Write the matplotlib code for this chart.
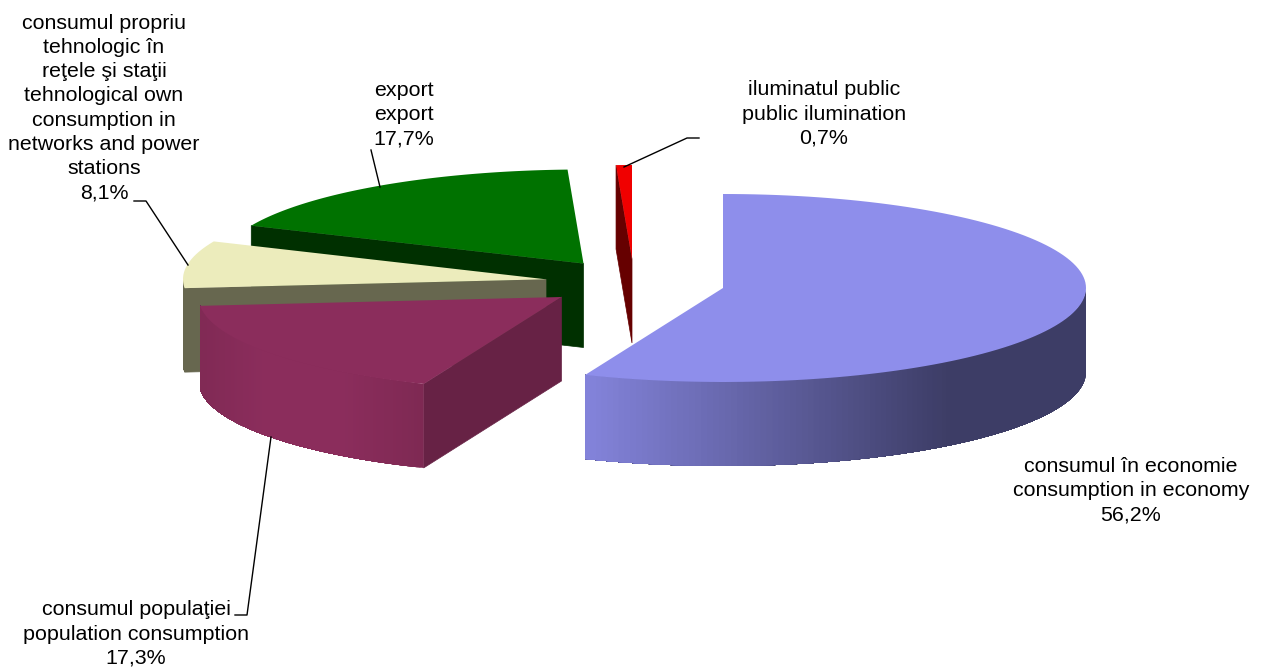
import matplotlib
matplotlib.use("Agg")
import matplotlib.pyplot as plt
import numpy as np
from matplotlib.colors import to_rgb

plt.rcParams['font.family'] = ['Liberation Sans', 'DejaVu Sans']

# shares in percent, clockwise from 12 o'clock
names = ["consumul în economie\nconsumption in economy",
         "consumul populaţiei\npopulation consumption",
         "consumul propriu\ntehnologic în\nreţele şi staţii\ntehnological own\nconsumption in\nnetworks and power\nstations",
         "export\nexport",
         "iluminatul public\npublic ilumination"]
values = [56.2, 17.3, 8.1, 17.7, 0.7]

top_colors = ["#8E8EEB", "#8B2D5C", "#ECECBC", "#007200", "#F00000"]
face_colors = ["#3D3D66", "#672245", "#67674F", "#003000", "#660000"]
centers = [(723, 288), (561.5, 297), (546, 279.3), (583.5, 263.5), (632, 259)]
label_pos = [(1131, 491), (136, 634), (104, 108), (404, 115), (824, 114)]
leaders = [None,
           [(271, 437), (247, 615), (235, 615)],
           [(188, 265), (146, 201), (134, 201)],
           [(380, 187), (371, 150)],
           [(624, 167), (687, 138), (699, 138)]]

rx = 363
ry = 94
depth = 84
draw_order = [3, 4, 2, 1, 0]


def rim(c, a):
    a = np.radians(a)
    return c[0] + rx * np.sin(a), c[1] - ry * np.cos(a)


def mix(c1, c2, t):
    return tuple((1 - t) * a + t * b for a, b in zip(to_rgb(c1), to_rgb(c2)))


def rim_color(i, x):
    # side shading changes with x, only the two big front slices have it
    if i == 0:
        return mix("#8484DC", "#3D3D66", np.clip((x - 586) / (950 - 586), 0, 1))
    if i == 1:
        return mix("#8B2D5C", "#7E2953", np.clip((abs(x - 305) - 40) / 80, 0, 1))
    return to_rgb(face_colors[i])


fig = plt.figure(figsize=(12.63, 6.69), dpi=100)
ax = fig.add_axes([0, 0, 1, 1])
ax.set_xlim(0, 1263)
ax.set_ylim(669, 0)
ax.axis("off")

edges = np.cumsum([0] + values) / 100 * 360

for i in draw_order:
    c = centers[i]
    a0, a1 = edges[i], edges[i + 1]

    # flat side at the start of the slice, visible for the ones on the left half
    if i != 0:
        ox, oy = rim(c, a0)
        ax.fill([c[0], ox, ox, c[0]], [c[1], oy, oy + depth, c[1] + depth],
                color=face_colors[i], lw=0.5)

    # curved front side, each piece covers the rest of the rim so no seams show
    lo, hi = max(a0, 90), min(a1, 270)
    if lo < hi:
        steps = np.linspace(lo, hi, 120)
        for k in range(len(steps) - 1):
            xs, ys = rim(c, steps[k:])
            col = rim_color(i, xs[0])
            ax.fill(np.r_[xs, xs[::-1]], np.r_[ys, ys[::-1] + depth], color=col, lw=0)

    # top
    ang = np.linspace(a0, a1, 120)
    xs, ys = rim(c, ang)
    ax.fill(np.r_[c[0], xs], np.r_[c[1], ys], color=top_colors[i], lw=0)

for i, name in enumerate(names):
    pct = f"{values[i]:.1f}%".replace(".", ",")
    ax.text(label_pos[i][0], label_pos[i][1], name + "\n" + pct, ha="center", va="center",
            ma="center", fontsize=15.4, color="black", linespacing=1.345)
    if leaders[i]:
        ax.plot(*zip(*leaders[i]), color="black", lw=1)

fig.savefig("out.png", dpi=100)
